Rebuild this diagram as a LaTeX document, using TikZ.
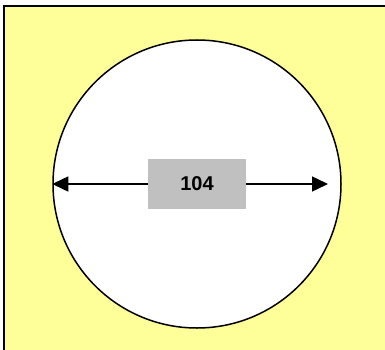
\documentclass[tikz,border=0pt]{standalone}
\usepackage{fontspec}
\setmainfont{Liberation Sans}
\usetikzlibrary{arrows.meta}
\definecolor{paleyellow}{HTML}{FFFF99}
\definecolor{boxgray}{HTML}{C0C0C0}
\tikzset{
  dimarrow/.style={-{Triangle[length=16pt,width=15pt]}, line width=1.5pt},
  valbox/.style={fill=boxgray, minimum width=98pt, minimum height=50pt, inner sep=0pt, font=\bfseries\fontsize{20pt}{24pt}\selectfont}
}
\begin{document}
\begin{tikzpicture}[x=1pt, y=-1pt]
      \useasboundingbox (0, 0) rectangle (385, 350);
      \clip (0, 0) rectangle (385, 350);
      \fill[white] (0, 0) rectangle (385, 350);
      \draw[fill=paleyellow, line width=2pt] (4, 6) rectangle (395, 360);
      \node[circle, draw, fill=white, line width=1.5pt, minimum size=288pt, inner sep=0pt] (ring) at (197, 184) {};
      \node[valbox] (val) at (197, 184) {104};
      \coordinate (tipR) at (328, 184);
      \draw[dimarrow] (val.west) -- (ring.west);
      \draw[dimarrow] (val.east) -- (tipR);
    \end{tikzpicture}
\end{document}
